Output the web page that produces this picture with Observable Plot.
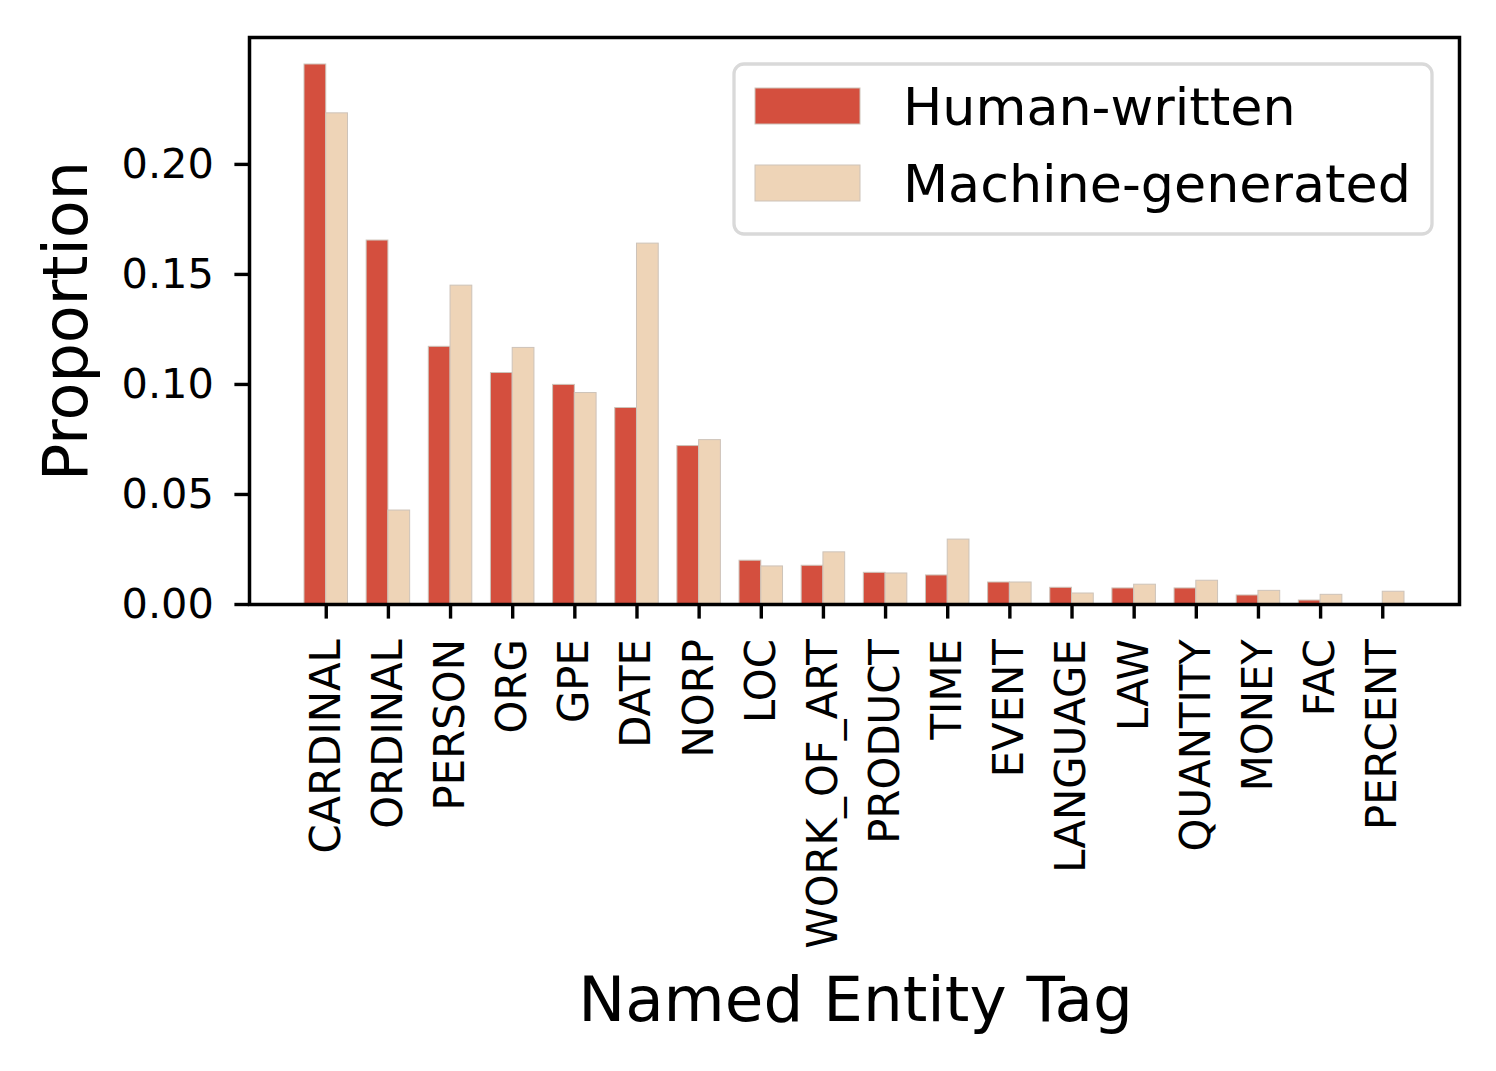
<!DOCTYPE html>
<html>
<head>
<meta charset="utf-8">
<script src="https://cdn.jsdelivr.net/npm/d3@7"></script>
<script src="https://cdn.jsdelivr.net/npm/@observablehq/plot@0.6"></script>
<style>
  body { margin: 0; background: #fff; }
  #wrap { position: relative; width: 1496px; height: 1071px; font-family: "DejaVu Sans", sans-serif; }
  #legend { position: absolute; left: 0; top: 0; pointer-events: none; }
</style>
</head>
<body>
<div id="wrap"></div>
<script>
// ---- data ----
const categories = ["CARDINAL","ORDINAL","PERSON","ORG","GPE","DATE","NORP","LOC","WORK_OF_ART","PRODUCT","TIME","EVENT","LANGUAGE","LAW","QUANTITY","MONEY","FAC","PERCENT"];
const humanValues   = [0.2454,0.1654,0.1171,0.1052,0.0998,0.0893,0.0720,0.0199,0.0176,0.0144,0.0132,0.0100,0.0076,0.0073,0.0073,0.0041,0.0018,0.0000];
const machineValues = [0.2232,0.0427,0.1449,0.1166,0.0961,0.1640,0.0747,0.0173,0.0237,0.0141,0.0295,0.0100,0.0050,0.0090,0.0108,0.0062,0.0044,0.0058];
const seriesNames = ["Human-written","Machine-generated"];
const seriesColors = ["#d44f3e","#eed4b7"];
const yTicks = [0, 0.05, 0.10, 0.15, 0.20];

// ---- table ----
const barWidth = 0.35;
const rows = [];
categories.forEach((c, i) => {
  rows.push({i, cat: c, series: seriesNames[0], value: humanValues[i], x1: i - barWidth, x2: i});
  rows.push({i, cat: c, series: seriesNames[1], value: machineValues[i], x1: i, x2: i + barWidth});
});
const n = categories.length;
const pad = (n - 1 + 2 * barWidth) * 0.05;
const yMax = d3.max(rows, d => d.value) * 1.05;

const FONT = "DejaVu Sans";
const chart = Plot.plot({
  width: 1496,
  height: 1071,
  marginLeft: 249,
  marginRight: 37,
  marginTop: 37,
  marginBottom: 467,
  style: { fontFamily: FONT, background: "white", color: "black" },
  x: { type: "linear", domain: [-barWidth - pad, n - 1 + barWidth + pad] },
  y: { domain: [0, yMax] },
  color: { domain: seriesNames, range: seriesColors },
  marks: [
    Plot.rect(rows, { x1: "x1", x2: "x2", y1: 0, y2: "value", fill: "series", stroke: "#cdc3b9", strokeWidth: 1 }),
    Plot.axisY({ ticks: yTicks, tickFormat: d3.format(".2f"), tickSize: 14.6, tickPadding: 21, fontSize: 41.5, strokeWidth: 3.4, label: null }),
    Plot.axisX({ ticks: d3.range(n), tickFormat: i => categories[i], tickRotate: -90, tickSize: 14.6, tickPadding: 20, fontSize: 41.8, strokeWidth: 3.4, label: null }),
    Plot.frame({ stroke: "black", strokeWidth: 3.5 }),
    Plot.text(["Proportion"], { frameAnchor: "left", rotate: -90, dx: -163, lineAnchor: "bottom", textAnchor: "middle", fontSize: 62, fill: "black" }),
    Plot.text(["Named Entity Tag"], { frameAnchor: "bottom", dy: 416, dx: 1, lineAnchor: "bottom", textAnchor: "middle", fontSize: 62.8, fill: "black" })
  ]
});
const wrap = document.getElementById("wrap");
wrap.appendChild(chart);

// ---- legend overlay ----
const leg = d3.select(wrap).append("svg").attr("id", "legend").attr("width", 1496).attr("height", 1071);
leg.append("rect").attr("x", 734).attr("y", 64).attr("width", 698).attr("height", 170).attr("rx", 10)
  .attr("fill", "white").attr("fill-opacity", 0.8).attr("stroke", "#d9d9d9").attr("stroke-width", 3.3);
seriesNames.forEach((s, k) => {
  const y0 = 88 + k * 77;
  leg.append("rect").attr("x", 755).attr("y", y0).attr("width", 105).attr("height", 36)
    .attr("fill", seriesColors[k]).attr("stroke", "#cdc3b9").attr("stroke-width", 1);
  leg.append("text").attr("x", 903).attr("y", 125 + k * 77).attr("font-family", FONT).attr("font-size", 52.3)
    .attr("fill", "black").text(s);
});
</script>
</body>
</html>
